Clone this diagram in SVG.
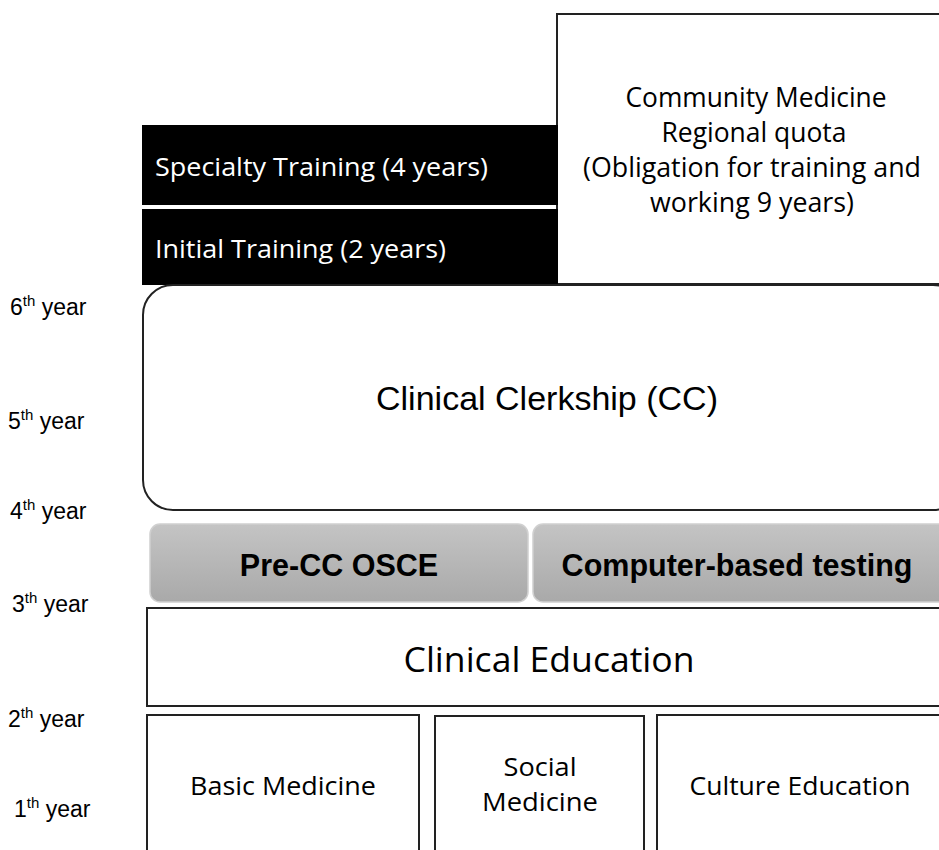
<svg xmlns="http://www.w3.org/2000/svg" width="939" height="850" viewBox="0 0 939 850">
<defs>
<linearGradient id="gray" x1="0" y1="0" x2="0" y2="1">
<stop offset="0" stop-color="#c4c4c4"/>
<stop offset="1" stop-color="#a9a9a9"/>
</linearGradient>
</defs>
<style>
.box{fill:#fff;stroke:#222;stroke-width:2}
.blk{fill:#000}
.exam{fill:url(#gray);stroke:#d0d0d0;stroke-width:1.5}
.cal{font-family:"Open Sans","Noto Sans",sans-serif;fill:#000}
.ari{font-family:"Liberation Sans",Arial,sans-serif;fill:#000}
.yr{font-family:"Liberation Sans",Arial,sans-serif;font-size:23px;fill:#000}
.sup{font-size:15px}
</style>
<rect width="939" height="850" fill="#fff"/>
<g id="community">
<rect class="box" x="557" y="14" width="390" height="270"/>
<text class="cal" font-size="27" text-anchor="middle" x="756" y="107" textLength="261" lengthAdjust="spacingAndGlyphs">Community Medicine</text>
<text class="cal" font-size="27" text-anchor="middle" x="754" y="142" textLength="185" lengthAdjust="spacingAndGlyphs">Regional quota</text>
<text class="cal" font-size="27" text-anchor="middle" x="752" y="177" textLength="338" lengthAdjust="spacingAndGlyphs">(Obligation for training and</text>
<text class="cal" font-size="27" text-anchor="middle" x="752" y="212" textLength="204" lengthAdjust="spacingAndGlyphs">working 9 years)</text>
</g>
<g id="specialty">
<rect class="blk" x="142" y="125" width="416" height="80"/>
<text class="cal" font-size="26" x="155" y="176" style="fill:#fff" textLength="333" lengthAdjust="spacingAndGlyphs">Specialty Training (4 years)</text>
</g>
<g id="initial">
<rect class="blk" x="142" y="209" width="416" height="76"/>
<text class="cal" font-size="26" x="155" y="258" style="fill:#fff" textLength="291" lengthAdjust="spacingAndGlyphs">Initial Training (2 years)</text>
</g>
<g id="clerkship">
<rect class="box" x="143" y="285" width="820" height="225" rx="30" ry="30"/>
<text class="ari" font-size="34" text-anchor="middle" x="547" y="410">Clinical Clerkship (CC)</text>
</g>
<g id="osce">
<rect class="exam" x="150" y="524" width="378" height="78" rx="10" ry="10"/>
<text class="ari" font-size="30.5" font-weight="bold" text-anchor="middle" x="339" y="576">Pre-CC OSCE</text>
</g>
<g id="cbt">
<rect class="exam" x="533" y="524" width="420" height="78" rx="10" ry="10"/>
<text class="ari" font-size="30.5" font-weight="bold" text-anchor="middle" x="737" y="576">Computer-based testing</text>
</g>
<g id="clinical-education">
<rect class="box" x="147" y="608" width="800" height="98"/>
<text class="cal" font-size="34" text-anchor="middle" x="549" y="672" textLength="291" lengthAdjust="spacingAndGlyphs">Clinical Education</text>
</g>
<g id="basic">
<rect class="box" x="147" y="715" width="272" height="150"/>
<text class="cal" font-size="26" text-anchor="middle" x="283" y="795" textLength="186" lengthAdjust="spacingAndGlyphs">Basic Medicine</text>
</g>
<g id="social">
<rect class="box" x="435" y="716" width="209" height="150"/>
<text class="cal" font-size="26" text-anchor="middle" x="540" y="776" textLength="73" lengthAdjust="spacingAndGlyphs">Social</text>
<text class="cal" font-size="26" text-anchor="middle" x="540" y="811" textLength="116" lengthAdjust="spacingAndGlyphs">Medicine</text>
</g>
<g id="culture">
<rect class="box" x="657" y="715" width="290" height="150"/>
<text class="cal" font-size="26" text-anchor="middle" x="800" y="795" textLength="221" lengthAdjust="spacingAndGlyphs">Culture Education</text>
</g>
<g id="years">
<text class="yr" x="10" y="315">6<tspan class="sup" dy="-9">th</tspan><tspan dy="9"> year</tspan></text>
<text class="yr" x="8" y="429">5<tspan class="sup" dy="-9">th</tspan><tspan dy="9"> year</tspan></text>
<text class="yr" x="10" y="519">4<tspan class="sup" dy="-9">th</tspan><tspan dy="9"> year</tspan></text>
<text class="yr" x="12" y="612">3<tspan class="sup" dy="-9">th</tspan><tspan dy="9"> year</tspan></text>
<text class="yr" x="8" y="727">2<tspan class="sup" dy="-9">th</tspan><tspan dy="9"> year</tspan></text>
<text class="yr" x="14" y="817">1<tspan class="sup" dy="-9">th</tspan><tspan dy="9"> year</tspan></text>
</g>
<g id="connectors"></g>
</svg>
